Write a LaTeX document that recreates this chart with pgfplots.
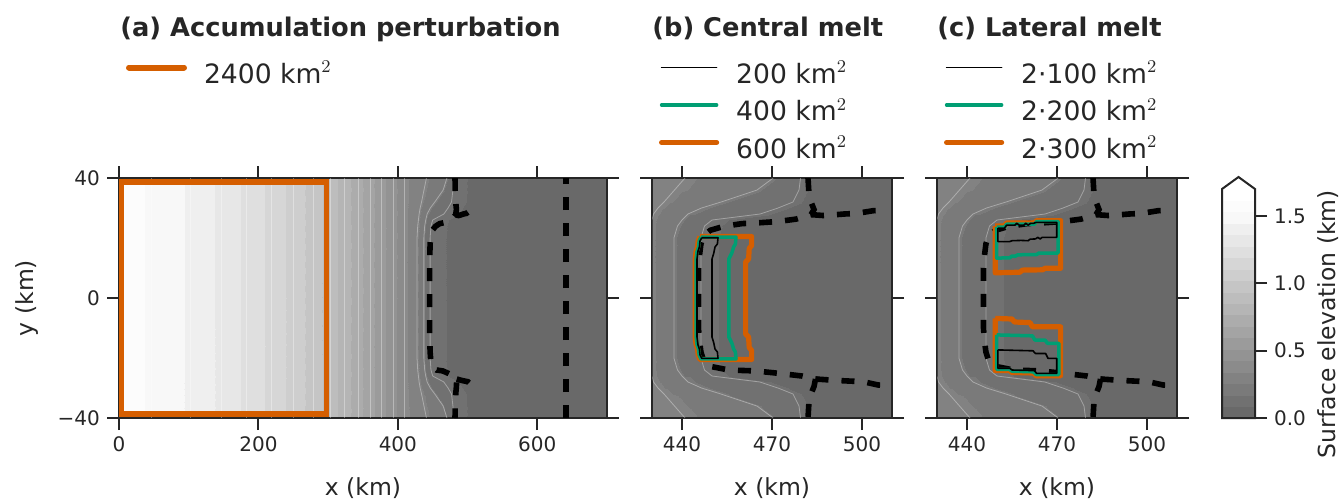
\documentclass[border=0pt]{standalone}
\usepackage{fontspec}
\setmainfont{DejaVu Sans}
\usepackage{pgfplots}
\pgfplotsset{compat=1.18}
\usepackage{pgfplotstable}

\definecolor{frame}{RGB}{38,38,38}
\definecolor{vermil}{RGB}{213,94,0}
\definecolor{bgreen}{RGB}{0,158,115}

\newcommand\tickfont{\fontsize{10}{12}\selectfont}
\newcommand\labfont{\fontsize{11.75}{14}\selectfont}
\newcommand\titfont{\fontsize{12.85}{15}\selectfont\bfseries}
\newcommand\legfont{\fontsize{13.3}{15}\selectfont}

% surface elevation (km), filled between contour levels k*1.7/19
% grounded part of panel (a): straight contour columns
\pgfplotstableread{
x y z m
0 -40 0 1.56
47 -40 0 1.5211
102 -40 0 1.4316
147 -40 0 1.3421
183 -40 0 1.2526
219 -40 0 1.1632
250 -40 0 1.0737
279 -40 0 0.9842
303 -40 0 0.8947
324 -40 0 0.8053
343 -40 0 0.7158
360 -40 0 0.6263
377 -40 0 0.5368
394 -40 0 0.4474
410 -40 0 0.3579
0 40 0 1.56
47 40 0 1.5211
102 40 0 1.4316
147 40 0 1.3421
183 40 0 1.2526
219 40 0 1.1632
250 40 0 1.0737
279 40 0 0.9842
303 40 0 0.8947
324 40 0 0.8053
343 40 0 0.7158
360 40 0 0.6263
377 40 0 0.5368
394 40 0 0.4474
410 40 0 0.3579
}\fieldal

% contour lines of the grounded part (straight), nan separates lines
\pgfplotstableread{
x y
47 -40
47 40
nan nan
102 -40
102 40
nan nan
147 -40
147 40
nan nan
183 -40
183 40
nan nan
219 -40
219 40
nan nan
250 -40
250 40
nan nan
279 -40
279 40
nan nan
303 -40
303 40
nan nan
324 -40
324 40
nan nan
343 -40
343 40
nan nan
360 -40
360 40
nan nan
377 -40
377 40
nan nan
394 -40
394 40
nan nan
410 -40
410 40
}\linesal

% margin and shelf of panel (a): curved contour columns (k = contour index)
\pgfplotstableread{
x y z m k
410 -40 0 0.3579 4
441 -40 0 0.2684 3
470.4 -40 0 0.1789 2
479.5 -40 0 0.0895 1
700 -40 0 0.04 0
410 -36 0 0.3579 4
437.5 -36 0 0.2684 3
465 -36 0 0.1789 2
479 -36 0 0.0895 1
700 -36 0 0.04 0
410 -32 0 0.3579 4
434 -32 0 0.2684 3
453 -32 0 0.1789 2
477 -32 0 0.0895 1
700 -32 0 0.04 0
410 -30 0 0.3579 4
432 -30 0 0.2684 3
446.5 -30 0 0.1789 2
472 -30 0 0.0895 1
700 -30 0 0.04 0
410 -28 0 0.3579 4
430.5 -28 0 0.2684 3
442 -28 0 0.1789 2
466 -28 0 0.0895 1
700 -28 0 0.04 0
410 -26 0 0.3579 4
429.5 -26 0 0.2684 3
440 -26 0 0.1789 2
450 -26 0 0.0895 1
700 -26 0 0.04 0
410 -24 0 0.3579 4
428.5 -24 0 0.2684 3
438.5 -24 0 0.1789 2
447.5 -24 0 0.0895 1
700 -24 0 0.04 0
410 -20 0 0.3579 4
427.5 -20 0 0.2684 3
437.3 -20 0 0.1789 2
446.3 -20 0 0.0895 1
700 -20 0 0.04 0
410 20 0 0.3579 4
427.5 20 0 0.2684 3
437.3 20 0 0.1789 2
446.3 20 0 0.0895 1
700 20 0 0.04 0
410 24 0 0.3579 4
428.5 24 0 0.2684 3
438.5 24 0 0.1789 2
447.5 24 0 0.0895 1
700 24 0 0.04 0
410 26 0 0.3579 4
429.5 26 0 0.2684 3
440 26 0 0.1789 2
450 26 0 0.0895 1
700 26 0 0.04 0
410 28 0 0.3579 4
430.5 28 0 0.2684 3
442 28 0 0.1789 2
466 28 0 0.0895 1
700 28 0 0.04 0
410 30 0 0.3579 4
432 30 0 0.2684 3
446.5 30 0 0.1789 2
472 30 0 0.0895 1
700 30 0 0.04 0
410 32 0 0.3579 4
434 32 0 0.2684 3
453 32 0 0.1789 2
477 32 0 0.0895 1
700 32 0 0.04 0
410 36 0 0.3579 4
437.5 36 0 0.2684 3
465 36 0 0.1789 2
479 36 0 0.0895 1
700 36 0 0.04 0
410 40 0 0.3579 4
441 40 0 0.2684 3
470.4 40 0 0.1789 2
479.5 40 0 0.0895 1
700 40 0 0.04 0
}\fieldar

% same field over the window 430-510 km of panels (b) and (c)
\pgfplotstableread{
x y z m k
430 -40 0 0.30 9
441 -40 0 0.2684 3
470.4 -40 0 0.1789 2
479.5 -40 0 0.0895 1
510 -40 0 0.04 0
430 -36 0 0.30 9
437.5 -36 0 0.2684 3
465 -36 0 0.1789 2
479 -36 0 0.0895 1
510 -36 0 0.04 0
430 -32 0 0.30 9
434 -32 0 0.2684 3
453 -32 0 0.1789 2
477 -32 0 0.0895 1
510 -32 0 0.04 0
430 -30 0 0.30 9
432 -30 0 0.2684 3
446.5 -30 0 0.1789 2
472 -30 0 0.0895 1
510 -30 0 0.04 0
430 -28 0 0.30 9
430.5 -28 0 0.2684 3
442 -28 0 0.1789 2
466 -28 0 0.0895 1
510 -28 0 0.04 0
430 -26 0 0.30 9
430 -26 0 0.2684 3
440 -26 0 0.1789 2
450 -26 0 0.0895 1
510 -26 0 0.04 0
430 -24 0 0.30 9
430 -24 0 0.2684 3
438.5 -24 0 0.1789 2
447.5 -24 0 0.0895 1
510 -24 0 0.04 0
430 -20 0 0.30 9
430 -20 0 0.2684 3
437.3 -20 0 0.1789 2
446.3 -20 0 0.0895 1
510 -20 0 0.04 0
430 20 0 0.30 9
430 20 0 0.2684 3
437.3 20 0 0.1789 2
446.3 20 0 0.0895 1
510 20 0 0.04 0
430 24 0 0.30 9
430 24 0 0.2684 3
438.5 24 0 0.1789 2
447.5 24 0 0.0895 1
510 24 0 0.04 0
430 26 0 0.30 9
430 26 0 0.2684 3
440 26 0 0.1789 2
450 26 0 0.0895 1
510 26 0 0.04 0
430 28 0 0.30 9
430.5 28 0 0.2684 3
442 28 0 0.1789 2
466 28 0 0.0895 1
510 28 0 0.04 0
430 30 0 0.30 9
432 30 0 0.2684 3
446.5 30 0 0.1789 2
472 30 0 0.0895 1
510 30 0 0.04 0
430 32 0 0.30 9
434 32 0 0.2684 3
453 32 0 0.1789 2
477 32 0 0.0895 1
510 32 0 0.04 0
430 36 0 0.30 9
437.5 36 0 0.2684 3
465 36 0 0.1789 2
479 36 0 0.0895 1
510 36 0 0.04 0
430 40 0 0.30 9
441 40 0 0.2684 3
470.4 40 0 0.1789 2
479.5 40 0 0.0895 1
510 40 0 0.04 0
}\fieldbc

% colour bar strip
\pgfplotstableread{
x y z m
0 0 0 0
1 0 0 0
0 1.7 0 1.7
1 1.7 0 1.7
}\cbar

% grounding line
\pgfplotstableread{
x y
482 40
482.3 35
483.2 31.5
484 29.5
483 27.8
478 26.3
472 25.5
466 25.1
460 24.8
454 23.9
449.5 22.6
447.2 20.8
446.3 18
445.8 14
445.5 10
445.5 0
445.5 -10
445.8 -14
446.3 -18
447.2 -20.8
449.5 -22.8
455.6 -24
464.4 -24.3
472.2 -25.1
480 -26
484.5 -27
484 -29.5
483.2 -31.5
482.3 -35
482 -40
}\glmain
\pgfplotstableread{
x y
483 27.8
487 27.5
490.3 27.7
494 28
498.2 28.2
503.7 29.1
507 29.2
}\glup
\pgfplotstableread{
x y
484.5 -27
488.9 -27.3
494 -27.6
500.4 -27.9
505.4 -29
508 -29.1
}\gllow

\pgfplotsset{
  colormap={elev}{rgb255=(105,105,105) rgb255=(113,113,113) rgb255=(122,122,122)
    rgb255=(130,130,130) rgb255=(139,139,139) rgb255=(147,147,147) rgb255=(155,155,155)
    rgb255=(164,164,164) rgb255=(172,172,172) rgb255=(181,181,181) rgb255=(189,189,189)
    rgb255=(197,197,197) rgb255=(206,206,206) rgb255=(214,214,214) rgb255=(223,223,223)
    rgb255=(231,231,231) rgb255=(239,239,239) rgb255=(248,248,248) rgb255=(252,252,252)
    rgb255=(255,255,255)},
  fieldaxis/.style={view={0}{90}, hide axis, scale only axis, anchor=south west,
    ymin=-40, ymax=40, zmin=-1, zmax=1, colormap name=elev,
    colormap access=piecewise constant, point meta min=0, point meta max=1.7},
  panel/.style={scale only axis, anchor=south west, ymin=-40, ymax=40,
    axis line style={line width=1pt, draw=frame},
    tick style={line width=1pt, draw=frame}, major tick length=6pt, tick align=outside,
    tick label style={font=\tickfont, text=frame},
    label style={font=\labfont, text=frame},
    ytick={-40,0,40},
    xlabel={x (km)}, xlabel style={at={(axis description cs:0.5,-0.2917)}, anchor=center},
    legend cell align=left,
    legend image code/.code={\draw[#1, line cap=round] (0pt,4.7pt) -- (27.5pt,4.7pt);},
    legend style={at={(0,1)}, anchor=north west, xshift=3.5pt, yshift=56.8pt,
      draw=none, fill=none, inner sep=0pt, outer sep=0pt, row sep=6.25pt,
      font=\legfont, text=frame,
      nodes={inner sep=0pt, text height=9.5pt, text depth=3pt},
      /tikz/every odd column/.append style={column sep=8.5pt}},
  },
  gl/.style={black, line width=2.8pt, dash pattern=on 6.5pt off 6.5pt, forget plot},
  faint/.style={white, draw opacity=0.35, line width=0.4pt, forget plot},
  onlyk/.style={x filter/.expression={\thisrow{k}==#1 ? x : nan}},
  box/.style={forget plot, line join=round},
}

\begin{document}
\begin{tikzpicture}
\useasboundingbox (0,0) rectangle (671pt,250pt);

% ---------- (a) ----------
\begin{axis}[fieldaxis, at={(59.5pt,41pt)}, width=244pt, height=120pt, xmin=0, xmax=700]
\addplot3[surf, shader=interp, mesh/cols=15, point meta=\thisrow{m}] table[x=x,y=y,z=z] {\fieldal};
\addplot3[surf, shader=interp, mesh/cols=5, point meta=\thisrow{m}] table[x=x,y=y,z=z] {\fieldar};
\end{axis}
\begin{axis}[panel, at={(59.5pt,41pt)}, width=244pt, height=120pt, xmin=0, xmax=700,
  xtick={0,200,400,600}, xticklabels={0,200,400,600}, yticklabels={−40,0,40},
  ylabel={y (km)}, ylabel style={at={(axis description cs:-0.1885,0.5)}, anchor=center}]
\addplot[faint, unbounded coords=jump] table[x=x,y=y] {\linesal};
\addplot[faint, onlyk=1] table[x=x,y=y] {\fieldar};
\addplot[faint, onlyk=2] table[x=x,y=y] {\fieldar};
\addplot[faint, onlyk=3] table[x=x,y=y] {\fieldar};
\addplot[gl] table[x=x,y=y] {\glmain};
\addplot[gl] table[x=x,y=y] {\glup};
\addplot[gl] table[x=x,y=y] {\gllow};
\addplot[gl] coordinates {(641,-40) (641,40)};
\addplot[box, draw=vermil, line width=2.7pt, line join=miter] coordinates
  {(150,-38.7) (298,-38.7) (298,38.7) (2.9,38.7) (2.9,-38.7) (150,-38.7)};
\addlegendimage{vermil, line width=3pt}
\addlegendentry{2400 km$^2$}
\end{axis}

% ---------- (b) ----------
\begin{axis}[fieldaxis, at={(326pt,41pt)}, width=120pt, height=120pt, xmin=430, xmax=510]
\addplot3[surf, shader=interp, mesh/cols=5, point meta=\thisrow{m}] table[x=x,y=y,z=z] {\fieldbc};
\end{axis}
\begin{axis}[panel, at={(326pt,41pt)}, width=120pt, height=120pt, xmin=430, xmax=510,
  xtick={440,470,500}, xticklabels={440,470,500}, yticklabels={,,}]
\addplot[faint, onlyk=1] table[x=x,y=y] {\fieldbc};
\addplot[faint, onlyk=2] table[x=x,y=y] {\fieldbc};
\addplot[faint, onlyk=3] table[x=x,y=y] {\fieldbc};
\addplot[gl] table[x=x,y=y] {\glmain};
\addplot[gl] table[x=x,y=y] {\glup};
\addplot[gl] table[x=x,y=y] {\gllow};
% 600 km2
\addplot[box, draw=vermil, line width=2.6pt] coordinates {
(446.0,20.5) (463.2,20.5) (463.2,17.5) (462.4,16.5) (462.2,13) (461.2,12)
(461.2,-12) (462.2,-13) (462.4,-16.5) (463.2,-17.5) (463.2,-20.5) (446.0,-20.5)
(445.4,-19) (445.2,-17) (444.7,-15.5) (444.4,-13) (444.4,13) (444.7,15.5)
(445.2,17) (445.4,19) (446.0,20.5)};
% 400 km2
\addplot[box, draw=bgreen, line width=1.75pt] coordinates {
(446.3,20.3) (458.0,20.3) (457.8,18) (457.2,17) (456.6,15) (455.6,13)
(455.6,-13) (456.6,-15) (457.2,-17) (457.8,-18) (458.0,-20.3) (446.3,-20.3)
(445.7,-19) (445.5,-17) (445.0,-15.5) (444.7,-13) (444.7,13) (445.0,15.5)
(445.5,17) (445.7,19) (446.3,20.3)};
% 200 km2
\addplot[box, draw=black, line width=0.8pt] coordinates {
(446.6,20.1) (452.0,20.1) (451.8,18) (451.0,17) (450.6,15) (450.0,13)
(450.0,-13) (450.6,-15) (451.0,-17) (451.8,-18) (452.0,-20.1) (446.6,-20.1)
(446.0,-19) (445.8,-17) (445.3,-15.5) (445.0,-13) (445.0,13) (445.3,15.5)
(445.8,17) (446.0,19) (446.6,20.1)};
\addlegendimage{black, line width=0.8pt}
\addlegendentry{200 km$^2$}
\addlegendimage{bgreen, line width=1.75pt}
\addlegendentry{400 km$^2$}
\addlegendimage{vermil, line width=2.6pt}
\addlegendentry{600 km$^2$}
\end{axis}

% ---------- (c) ----------
\begin{axis}[fieldaxis, at={(468.5pt,41pt)}, width=120pt, height=120pt, xmin=430, xmax=510]
\addplot3[surf, shader=interp, mesh/cols=5, point meta=\thisrow{m}] table[x=x,y=y,z=z] {\fieldbc};
\end{axis}
\begin{axis}[panel, at={(468.5pt,41pt)}, width=120pt, height=120pt, xmin=430, xmax=510,
  xtick={440,470,500}, xticklabels={440,470,500}, yticklabels={,,}]
\addplot[faint, onlyk=1] table[x=x,y=y] {\fieldbc};
\addplot[faint, onlyk=2] table[x=x,y=y] {\fieldbc};
\addplot[faint, onlyk=3] table[x=x,y=y] {\fieldbc};
\addplot[gl] table[x=x,y=y] {\glmain};
\addplot[gl] table[x=x,y=y] {\glup};
\addplot[gl] table[x=x,y=y] {\gllow};
% 2 x 300 km2
\addplot[box, draw=vermil, line width=2.6pt] coordinates {
(449.4,24.0) (452.5,24.0) (453.2,25.0) (462.5,25.0) (463.2,25.8) (471.2,25.8)
(471.2,9.9) (466.0,9.9) (465.2,9.4) (458.5,9.3) (457.6,8.6) (449.4,8.4) (449.4,24.0)};
\addplot[box, draw=vermil, line width=2.6pt] coordinates {
(449.4,-6.8) (455.0,-7.0) (455.8,-8.0) (461.0,-8.2) (461.8,-9.6) (471.2,-9.6)
(471.2,-25.9) (463.0,-25.9) (462.2,-25.0) (455.0,-24.8) (454.2,-24.2) (449.4,-24.2) (449.4,-6.8)};
% 2 x 200 km2
\addplot[box, draw=bgreen, line width=1.75pt] coordinates {
(449.9,23.6) (452.5,23.6) (453.2,24.6) (462.5,24.6) (463.2,25.5) (470.4,25.5)
(470.4,15.0) (464.0,15.0) (463.2,14.5) (457.0,14.4) (456.0,13.9) (455.0,14.0)
(454.2,13.4) (449.9,13.3) (449.9,23.6)};
\addplot[box, draw=bgreen, line width=1.75pt] coordinates {
(449.9,-12.3) (461.8,-12.6) (462.6,-14.0) (466.0,-14.0) (466.8,-15.1) (470.6,-15.1)
(470.6,-25.5) (463.0,-25.5) (462.2,-24.6) (455.0,-24.4) (454.2,-23.8) (449.9,-23.8) (449.9,-12.3)};
% 2 x 100 km2
\addplot[box, draw=black, line width=0.8pt] coordinates {
(450.3,23.3) (452.5,23.3) (453.2,24.3) (456.0,24.3) (456.6,24.9) (457.4,24.3)
(459.0,24.3) (459.6,24.9) (460.4,24.3) (461.2,24.9) (462.2,24.9) (463.0,25.2)
(469.9,25.2) (469.9,20.2) (465.0,20.2) (464.4,19.7) (463.6,20.2) (462.8,19.7)
(461.0,19.6) (460.4,19.1) (458.0,19.2) (455.0,19.1) (454.2,18.8) (450.3,18.8) (450.3,23.3)};
\addplot[box, draw=black, line width=0.8pt] coordinates {
(450.3,-17.3) (462.0,-17.6) (462.8,-18.5) (466.2,-18.5) (467.0,-20.1) (469.9,-20.1)
(469.9,-25.1) (463.2,-25.1) (462.4,-24.2) (455.0,-24.0) (454.2,-23.4) (450.3,-23.4) (450.3,-17.3)};
\addlegendimage{black, line width=0.8pt}
\addlegendentry{2·100 km$^2$}
\addlegendimage{bgreen, line width=1.75pt}
\addlegendentry{2·200 km$^2$}
\addlegendimage{vermil, line width=2.6pt}
\addlegendentry{2·300 km$^2$}
\end{axis}

% ---------- colour bar ----------
\begin{axis}[fieldaxis, at={(611pt,41pt)}, width=16.5pt, height=114.5pt,
  xmin=0, xmax=1, ymin=0, ymax=1.7]
\addplot3[surf, shader=interp, mesh/cols=2, point meta=\thisrow{m}] table[x=x,y=y,z=z] {\cbar};
\end{axis}
\begin{axis}[scale only axis, anchor=south west, at={(611pt,41pt)}, width=16.5pt, height=114.5pt,
  xmin=0, xmax=1, ymin=0, ymax=1.7, clip=false, axis line style={draw=none},
  xtick=\empty, ytick={0,0.5,1,1.5}, yticklabels={0.0,0.5,1.0,1.5},
  ytick pos=right, yticklabel pos=right, tick align=outside, major tick length=6pt,
  tick style={line width=1pt, draw=frame}, tick label style={font=\tickfont, text=frame},
  ylabel={Surface elevation (km)},
  ylabel style={font=\labfont, text=frame, at={(axis description cs:3.212,0.4105)}, anchor=center}]
\addplot[draw=none, fill=white, forget plot] coordinates {(0,1.7) (0.5,1.789) (1,1.7) (0,1.7)};
\addplot[frame, line width=1pt, line join=miter, forget plot] coordinates
  {(0.5,0) (1,0) (1,1.7) (0.5,1.789) (0,1.7) (0,0) (0.5,0)};
\end{axis}

% ---------- panel titles ----------
\node[anchor=base west, font=\titfont, text=frame, inner sep=0pt] at (60pt,232pt) {(a) Accumulation perturbation};
\node[anchor=base west, font=\titfont, text=frame, inner sep=0pt] at (326pt,232pt) {(b) Central melt};
\node[anchor=base west, font=\titfont, text=frame, inner sep=0pt] at (468.5pt,232pt) {(c) Lateral melt};
\end{tikzpicture}
\end{document}
